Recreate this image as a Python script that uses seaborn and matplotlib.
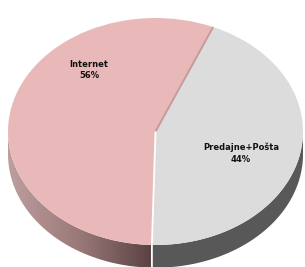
import numpy as np
import matplotlib
matplotlib.use("Agg")
import matplotlib.pyplot as plt
from matplotlib.colors import LinearSegmentedColormap
from matplotlib.patches import Polygon
import seaborn as sns

# data
labels = ["Internet", "Predajne+Pošta"]
shares = [56, 44]

# styles
top_colors = ["#E9B9B9", "#DCDCDC"]
side_grey = "#585858"
pink_side = LinearSegmentedColormap.from_list("pinkside", ["#BE9E9E", "#9A7878", "#5A4242"])

sns.set_theme(style="white")
plt.rcParams['font.family'] = ['DejaVu Sans']

fig = plt.figure(figsize=(3.05, 2.67), dpi=100)
ax = fig.add_axes([0, 0, 1, 1])

start = 67
depth = 0.2

# top face
wedges, _ = ax.pie(shares, colors=top_colors, startangle=start, counterclock=True,
                   radius=1, wedgeprops=dict(linewidth=0, zorder=3), frame=False)

# side wall, front half only (180..360 deg)
cuts = start + 360 * np.cumsum([0] + shares) / sum(shares)
tb = np.deg2rad(cuts[1])

def side_poly(a0, a1):
    t = np.linspace(a0, a1, 80)
    top = np.column_stack([np.cos(t), np.sin(t)])
    bot = top[::-1] - [0, depth]
    return np.vstack([top, bot])

pink_poly = Polygon(side_poly(np.pi, tb), closed=True, facecolor="none", edgecolor="none")
ax.add_patch(pink_poly)
grad = np.linspace(0, 1, 256).reshape(1, -1)
im = ax.imshow(grad, cmap=pink_side, extent=(-1, np.cos(tb), -1 - depth - 0.05, 0.05),
               aspect="auto", zorder=1)
im.set_clip_path(pink_poly)

grey_poly = Polygon(side_poly(tb, 2 * np.pi), closed=True, facecolor=side_grey,
                    edgecolor="none", zorder=1)
ax.add_patch(grey_poly)

# slice borders
ta = np.deg2rad(cuts[0])
ax.plot([0, np.cos(ta)], [0, np.sin(ta)], color="#C79A9A", lw=1.4, zorder=4,
        solid_capstyle="butt")
ax.plot([0, np.cos(tb), np.cos(tb)], [0, np.sin(tb), np.sin(tb) - depth],
        color="white", lw=1.3, zorder=4, solid_capstyle="butt")

# labels
label_pos = [(-0.45, 0.54), (0.58, -0.19)]
for (x, y), lab, val in zip(label_pos, labels, shares):
    ax.text(x, y, f"{lab}\n{val}%", ha="center", va="center", fontsize=6,
            fontweight="bold", color="#111111", linespacing=1.35, zorder=5)

ax.set_aspect("auto")
ax.set_xlim(-155.5 / 147.5, (305 - 155.5) / 147.5)
ax.set_ylim((131.5 - 267) / 113.5, 131.5 / 113.5)
ax.axis("off")

fig.savefig("out.png", dpi=100)
